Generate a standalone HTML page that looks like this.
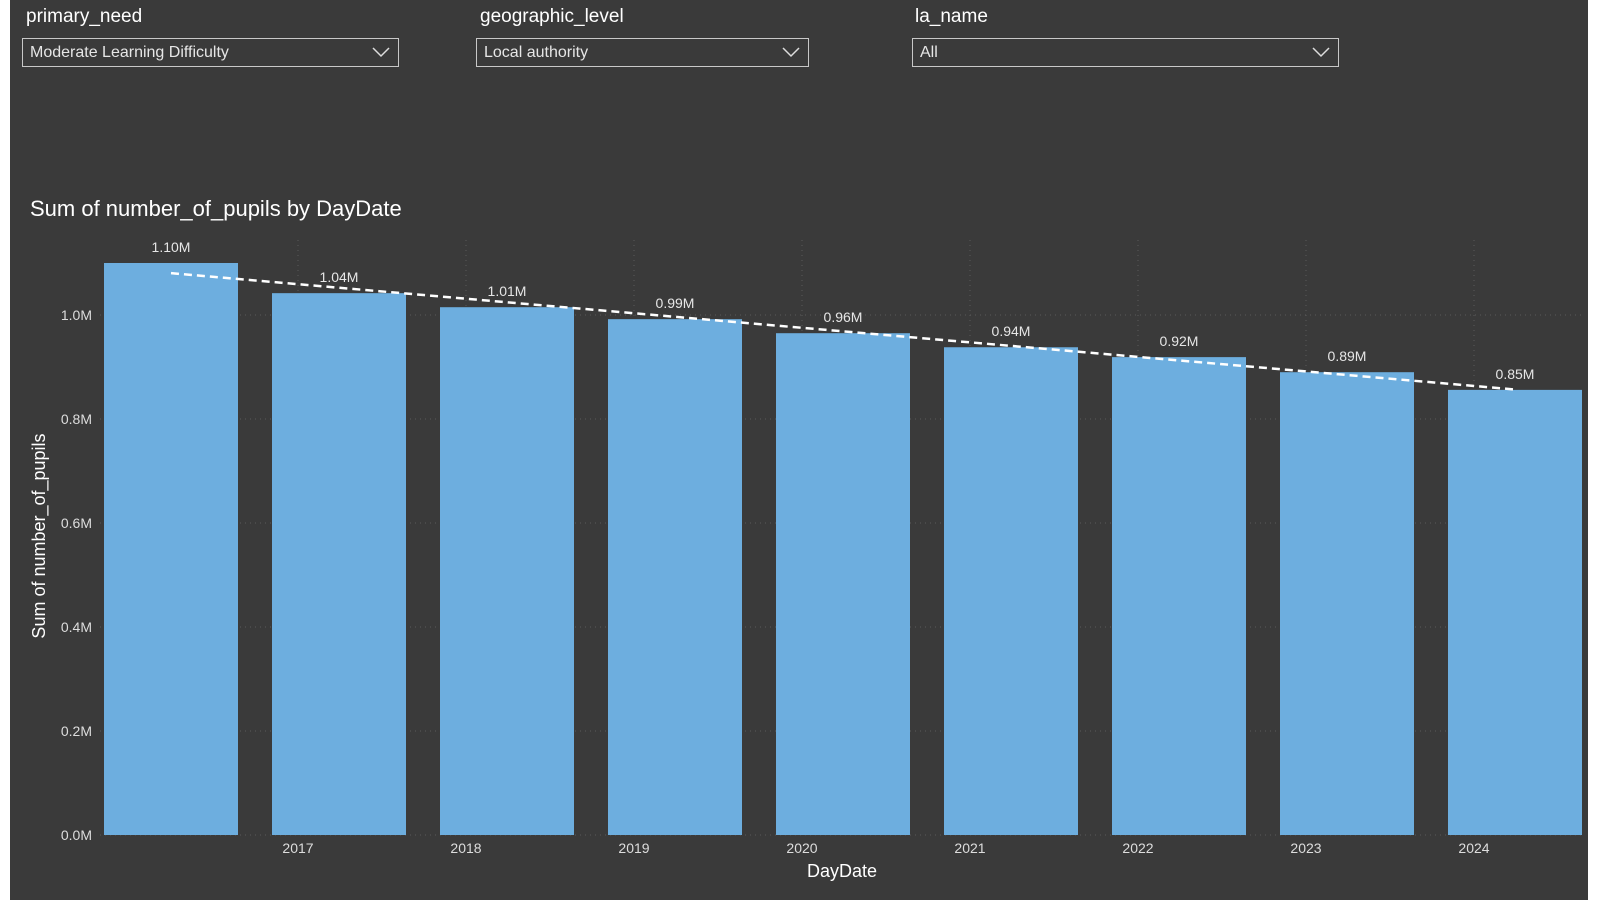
<!DOCTYPE html>
<html><head><meta charset="utf-8"><style>
body{margin:0;width:1600px;height:900px;background:#fff;overflow:hidden;font-family:"Liberation Sans",sans-serif}
#panel{position:absolute;left:10px;top:0;width:1578px;height:900px;background:#3a3a3a}
.lbl{position:absolute;color:#fff;font-size:19px;top:6px}
.dd{position:absolute;top:38px;height:29px;border:1px solid #c8c8c8;box-sizing:border-box;color:#e6e6e6;font-size:16px;line-height:27px;padding-left:7px}
.dd svg{position:absolute;right:8px;top:8px}
</style></head><body>
<div id="panel"></div>
<div class="lbl" style="left:26px">primary_need</div>
<div class="dd" style="left:22px;width:377px">Moderate Learning Difficulty<svg width="18" height="11"><path d="M1 1L9 9L17 1" stroke="#ddd" fill="none" stroke-width="1.5"/></svg></div>
<div class="lbl" style="left:480px">geographic_level</div>
<div class="dd" style="left:476px;width:333px">Local authority<svg width="18" height="11"><path d="M1 1L9 9L17 1" stroke="#ddd" fill="none" stroke-width="1.5"/></svg></div>
<div class="lbl" style="left:915px">la_name</div>
<div class="dd" style="left:912px;width:427px">All<svg width="18" height="11"><path d="M1 1L9 9L17 1" stroke="#ddd" fill="none" stroke-width="1.5"/></svg></div>
<svg id="chart" width="1600" height="900" style="position:absolute;left:0;top:0">
<text x="30" y="216" fill="#fff" font-size="22">Sum of number_of_pupils by DayDate</text>
<text transform="translate(45,536) rotate(-90)" text-anchor="middle" fill="#fff" font-size="18">Sum of number_of_pupils</text>
<text x="842" y="877" text-anchor="middle" fill="#fff" font-size="18">DayDate</text>
</svg>
<script>
const values=[1.10,1.042,1.015,0.992,0.965,0.938,0.919,0.890,0.856];
const valueLabels=["1.10M","1.04M","1.01M","0.99M","0.96M","0.94M","0.92M","0.89M","0.85M"];
const yTicks=[0,0.2,0.4,0.6,0.8,1.0];
const yTickLabels=["0.0M","0.2M","0.4M","0.6M","0.8M","1.0M"];
const xTickLabels=["2017","2018","2019","2020","2021","2022","2023","2024"];
const NS="http://www.w3.org/2000/svg",svg=document.getElementById('chart');
const y0=835,pxPerM=520,x0=104,pitch=168,bw=134;
const Y=v=>y0-v*pxPerM, Xc=i=>x0+bw/2+i*pitch, Xt=i=>298+i*pitch;
function mk(t,a){const e=document.createElementNS(NS,t);for(const k in a)e.setAttribute(k,a[k]);svg.appendChild(e);return e;}
yTicks.forEach((v,i)=>{
 const g=mk('line',{x1:100,x2:1585,y1:Y(v),y2:Y(v),stroke:'#5a5a5a','stroke-dasharray':'1 4'});
 
 
 const t=mk('text',{x:92,y:Y(v)+5,'text-anchor':'end',fill:'#ddd','font-size':14});
 t.textContent=yTickLabels[i];
 
 
});
xTickLabels.forEach((s,i)=>{
 const g=mk('line',{x1:Xt(i),x2:Xt(i),y1:240,y2:y0,stroke:'#5a5a5a','stroke-dasharray':'1 4'});
 
 
 const t=mk('text',{x:Xt(i),y:853,'text-anchor':'middle',fill:'#ddd','font-size':14});
 t.textContent=s;
 
 
});
values.forEach((v,i)=>{
 const r=mk('rect',{x:Xc(i)-bw/2,y:Y(v),width:bw,height:y0-Y(v),fill:'#6daedf'});
 
 
 const t=mk('text',{x:Xc(i),y:Y(v)-11,'text-anchor':'middle',fill:'#e6e6e6','font-size':14});
 t.textContent=valueLabels[i];
 
 
});
const n=values.length,mx=(n-1)/2,my=values.reduce((a,b)=>a+b)/n;
let sxy=0,sxx=0;values.forEach((v,i)=>{sxy+=(i-mx)*(v-my);sxx+=(i-mx)**2;});
const sl=sxy/sxx,ic=my-sl*mx;
const tl=mk('line',{x1:Xc(0),y1:Y(ic),x2:Xc(n-1),y2:Y(ic+sl*(n-1)),stroke:'#fff','stroke-width':2.5,'stroke-dasharray':'8 5'});


</script>
</body></html>
